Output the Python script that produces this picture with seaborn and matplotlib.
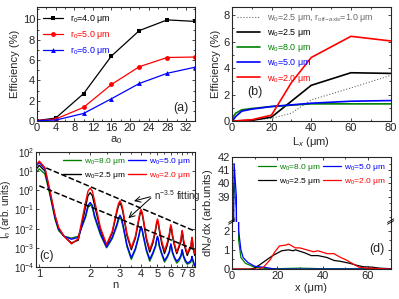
import numpy as np
import pandas as pd
import matplotlib
matplotlib.use("Agg")
import matplotlib.pyplot as plt
import seaborn as sns
from matplotlib.ticker import AutoMinorLocator, FixedLocator, NullFormatter

sns.set_style("ticks")
plt.rcParams['font.family'] = ['Liberation Sans', 'DejaVu Sans']
plt.rcParams['mathtext.fontset'] = 'custom'
plt.rcParams['mathtext.rm'] = 'Liberation Sans'
plt.rcParams['mathtext.it'] = 'Liberation Sans:italic'
plt.rcParams['xtick.direction'] = 'in'
plt.rcParams['ytick.direction'] = 'in'
plt.rcParams['axes.linewidth'] = 0.8
plt.rcParams['axes.unicode_minus'] = False

# ---- panel (a) data
a0 = [0, 4, 10, 16, 22, 28, 34]
eff_r4 = [0.05, 0.3, 2.7, 6.4, 8.9, 9.95, 9.8]
eff_r5 = [0.05, 0.2, 1.35, 3.6, 5.35, 6.25, 6.3]
eff_r6 = [0.05, 0.1, 0.75, 2.2, 3.7, 4.7, 5.3]

# ---- panel (b) data
lx_red = [0, 10, 20, 30, 40, 60, 80]
eff_w20 = [0, 0.1, 0.45, 2.9, 4.8, 6.4, 6.05]
lx_blk = [0, 10, 20, 40, 60, 80]
eff_w25 = [0, 0.05, 0.3, 2.7, 3.65, 3.6]
lx_dot = [0, 10, 20, 30, 40, 60, 80]
eff_w25_off = [0, 0.1, 0.2, 0.6, 1.6, 2.5, 3.45]
lx_fast = [0, 1, 2, 5, 10, 20, 40, 60, 80]
eff_w80 = [0, 0.4, 0.6, 0.85, 0.95, 1.1, 1.3, 1.3, 1.3]
eff_w50 = [0, 0.15, 0.35, 0.75, 0.9, 1.1, 1.35, 1.5, 1.55]

# ---- panel (c) data
n_h = [0.955, 1.0, 1.08, 1.15, 1.24, 1.3, 1.4, 1.55,
       1.7, 1.88, 1.94, 2.0, 2.06, 2.12, 2.3, 2.5,
       2.7, 2.88, 2.94, 3.0, 3.06, 3.12, 3.3, 3.5,
       3.7, 3.88, 3.94, 4.0, 4.06, 4.12, 4.3, 4.5,
       4.7, 4.88, 4.94, 5.0, 5.06, 5.12, 5.3, 5.5,
       5.7, 5.88, 5.94, 6.0, 6.06, 6.12, 6.3, 6.5,
       6.7, 6.88, 6.94, 7.0, 7.06, 7.12, 7.3, 7.5,
       7.7, 7.88, 7.94, 8.0, 8.06, 8.12, 8.3]
I_w20 = [20, 33, 15, 1.2, 0.05, 0.012, 4e-3, 1.6e-3,
         3e-3, 0.25, 0.9, 1.3, 0.9, 0.3, 0.011, 1.5e-3,
         7.2e-3, 0.1, 0.2, 0.28, 0.2, 0.1, 5.4e-3, 1e-3,
         4e-3, 0.035, 0.07, 0.1, 0.07, 0.035, 3.4e-3, 8e-4,
         2.4e-3, 0.011, 0.022, 0.032, 0.022, 0.011, 2.2e-3, 7e-4,
         1.8e-3, 5.6e-3, 0.011, 0.016, 0.011, 5.6e-3, 1.6e-3, 6e-4,
         1.3e-3, 2.8e-3, 5.6e-3, 8e-3, 5.6e-3, 2.8e-3, 1.15e-3, 5e-4,
         9e-4, 1.2e-3, 2.4e-3, 3.5e-3, 2.4e-3, 1.2e-3, 5e-4]
I_w25 = [12, 20, 10, 0.9, 0.04, 0.01, 4e-3, 1.8e-3,
         2.5e-3, 0.14, 0.52, 0.75, 0.52, 0.17, 8.7e-3, 1.3e-3,
         6e-3, 0.077, 0.15, 0.22, 0.15, 0.077, 4.3e-3, 8e-4,
         3.2e-3, 0.028, 0.056, 0.08, 0.056, 0.028, 2.6e-3, 6e-4,
         1.8e-3, 8.8e-3, 0.0175, 0.025, 0.0175, 8.8e-3, 1.6e-3, 5e-4,
         1.3e-3, 4.2e-3, 8.4e-3, 0.012, 8.4e-3, 4.2e-3, 1.3e-3, 5e-4,
         1.05e-3, 2.1e-3, 4.2e-3, 6e-3, 4.2e-3, 2.1e-3, 9e-4, 4e-4,
         7.2e-4, 1e-3, 2e-3, 2.8e-3, 2e-3, 1e-3, 4e-4]
I_w50 = [18, 28, 13, 1.0, 0.04, 0.01, 4e-3, 2.8e-3,
         3.5e-3, 0.05, 0.16, 0.23, 0.16, 0.05, 5.5e-3, 1.1e-3,
         3.5e-3, 0.0175, 0.035, 0.05, 0.035, 0.0175, 1.4e-3, 3e-4,
         9.3e-4, 4.5e-3, 9e-3, 0.013, 9e-3, 4.5e-3, 8.2e-4, 2.5e-4,
         5.7e-4, 1.4e-3, 2.8e-3, 4e-3, 2.8e-3, 1.4e-3, 5.2e-4, 2.2e-4,
         3.5e-4, 6.5e-4, 1.1e-3, 1.6e-3, 1.1e-3, 6.5e-4, 3.2e-4, 2e-4,
         2.6e-4, 4e-4, 5.6e-4, 8e-4, 5.6e-4, 4e-4, 2.3e-4, 1.6e-4,
         1.8e-4, 2.2e-4, 2.6e-4, 3.6e-4, 2.6e-4, 2.2e-4, 1.2e-4]
I_w80 = [8, 13, 7, 0.7, 0.03, 0.008, 4e-3, 3.2e-3,
         4e-3, 0.04, 0.125, 0.18, 0.125, 0.04, 4.7e-3, 1e-3,
         3e-3, 0.014, 0.028, 0.04, 0.028, 0.014, 1.15e-3, 2.5e-4,
         7.8e-4, 3.9e-3, 7.7e-3, 0.011, 7.7e-3, 3.9e-3, 6.7e-4, 2e-4,
         4.7e-4, 1.2e-3, 2.5e-3, 3.5e-3, 2.5e-3, 1.2e-3, 4.4e-4, 1.8e-4,
         3e-4, 5.6e-4, 1e-3, 1.4e-3, 1e-3, 5.6e-4, 2.8e-4, 1.6e-4,
         2.1e-4, 3.4e-4, 5e-4, 7e-4, 5e-4, 3.4e-4, 1.9e-4, 1.4e-4,
         1.55e-4, 1.8e-4, 2.2e-4, 3e-4, 2.2e-4, 1.8e-4, 1e-4]
fit_up_n = [1.1, 8.3]
fit_up_I = [14.5, 0.0075]
fit_lo_n = [1.0, 8.3]
fit_lo_I = [1.7, 0.0008]

# ---- panel (d) data
x_blue = [0, 0.5, 1, 2, 3, 4, 5, 7, 10, 15, 18, 20, 30, 40, 50, 60, 70]
dn_w50 = [0, 30, 41.5, 39, 2.0, 1.0, 0.6, 0.35, 0.15, 0.08, 0.02, 0, 0, 0, 0, 0, 0]
x_green = [0, 0.5, 1, 2, 3, 4, 6, 10, 15, 20, 30, 40, 50, 60, 70]
dn_w80 = [0, 39, 40, 38, 1.5, 0.6, 0.3, 0.1, 0.03, 0.02, 0.05, 0.02, 0.02, 0.02, 0.02]
x_black = [0, 8, 10, 12, 15, 18, 22, 25, 27, 28, 32, 35, 38, 42, 45, 48, 52, 55, 58, 62, 65, 70]
dn_w25 = [0, 0, 0.05, 0.2, 0.45, 0.7, 0.95, 1.0, 0.95, 1.0, 0.85, 0.7, 0.7, 0.6, 0.45, 0.4,
          0.3, 0.2, 0.12, 0.1, 0.05, 0.02]
x_red = [0, 12, 14, 17, 19, 21, 24, 25, 28, 30, 33, 36, 38, 42, 45, 48, 50, 53, 56, 60, 65, 70]
dn_w20 = [0, 0, 0.1, 0.5, 0.9, 1.2, 1.25, 1.3, 1.1, 1.1, 1.0, 0.9, 0.95, 0.8, 0.8, 0.6,
          0.5, 0.3, 0.1, 0.05, 0.02, 0]

W = r'w$_0$'
fig = plt.figure(figsize=(3.99, 2.99), dpi=100)
fs = 8
lfs = 6.4
sfs = 6.0


def style(ax):
    ax.tick_params(which='both', top=True, right=True, labelsize=fs, length=2.5, width=0.6, pad=1.5)
    ax.tick_params(which='minor', length=1.5)


def color_legend(leg):
    for line, text in zip(leg.get_lines(), leg.get_texts()):
        text.set_color(line.get_color())


# (a)
ax = fig.add_axes([0.093, 0.595, 0.396, 0.381])
sns.lineplot(x=a0, y=eff_r4, ax=ax, color='black', marker='s', markersize=3.5, lw=0.9,
             markeredgewidth=0, label=r'r$_0$=4.0 μm')
sns.lineplot(x=a0, y=eff_r5, ax=ax, color='red', marker='o', markersize=3.5, lw=0.9,
             markeredgewidth=0, label=r'r$_0$=5.0 μm')
sns.lineplot(x=a0, y=eff_r6, ax=ax, color='blue', marker='^', markersize=3.5, lw=0.9,
             markeredgewidth=0, label=r'r$_0$=6.0 μm')
ax.set_xlim(0, 34)
ax.set_ylim(0, 11.2)
ax.set_xticks(range(0, 33, 4))
ax.set_yticks(range(0, 11, 2))
ax.xaxis.set_minor_locator(AutoMinorLocator(2))
ax.yaxis.set_minor_locator(AutoMinorLocator(2))
ax.set_xlabel(r'a$_0$', fontsize=fs, labelpad=1)
ax.set_ylabel('Efficiency (%)', fontsize=fs, labelpad=2)
leg = ax.legend(loc='upper left', fontsize=lfs, frameon=False, handlelength=2.2,
                borderaxespad=0.3, labelspacing=0.45)
color_legend(leg)
ax.text(0.96, 0.06, '(a)', transform=ax.transAxes, ha='right', va='bottom', fontsize=9)
style(ax)

# (b)
ax = fig.add_axes([0.581, 0.595, 0.398, 0.381])
sns.lineplot(x=lx_dot, y=eff_w25_off, ax=ax, color='dimgray', lw=0.8, ls=':',
             label=W + r'=2.5 μm, r$_{\rm off\!-\!axis}$=1.0 μm')
sns.lineplot(x=lx_blk, y=eff_w25, ax=ax, color='black', lw=1.2, label=W + '=2.5 μm')
sns.lineplot(x=lx_fast, y=eff_w80, ax=ax, color='green', lw=1.2, label=W + '=8.0 μm')
sns.lineplot(x=lx_fast, y=eff_w50, ax=ax, color='blue', lw=1.2, label=W + '=5.0 μm')
sns.lineplot(x=lx_red, y=eff_w20, ax=ax, color='red', lw=1.2, label=W + '=2.0 μm')
ax.set_xlim(0, 80)
ax.set_ylim(0, 8.6)
ax.set_xticks([0, 20, 40, 60, 80])
ax.set_yticks([0, 2, 4, 6, 8])
ax.xaxis.set_minor_locator(AutoMinorLocator(2))
ax.yaxis.set_minor_locator(AutoMinorLocator(2))
ax.set_xlabel(r'L$_x$ (μm)', fontsize=fs, labelpad=1)
ax.set_ylabel('Efficiency (%)', fontsize=fs, labelpad=2)
leg = ax.legend(loc='upper left', fontsize=lfs, frameon=False, handlelength=2.6,
                borderaxespad=0.15, labelspacing=0.35)
color_legend(leg)
ax.text(0.1, 0.2, '(b)', transform=ax.transAxes, ha='left', va='bottom', fontsize=9)
style(ax)

# (c)
ax = fig.add_axes([0.090, 0.107, 0.398, 0.385])
sns.lineplot(x=n_h, y=I_w80, ax=ax, color='green', lw=1.0, sort=False, label=W + '=8.0 μm')
sns.lineplot(x=n_h, y=I_w25, ax=ax, color='black', lw=1.0, sort=False, label=W + '=2.5 μm')
sns.lineplot(x=n_h, y=I_w50, ax=ax, color='blue', lw=1.0, sort=False, label=W + '=5.0 μm')
sns.lineplot(x=n_h, y=I_w20, ax=ax, color='red', lw=1.0, sort=False, label=W + '=2.0 μm')
ax.plot(fit_up_n, fit_up_I, color='black', ls='--', lw=1.1)
ax.plot(fit_lo_n, fit_lo_I, color='black', ls='--', lw=1.1)
ax.set_xscale('log')
ax.set_yscale('log')
ax.set_xlim(0.955, 8.3)
ax.set_ylim(1e-4, 1e2)
ax.xaxis.set_major_locator(FixedLocator(range(1, 9)))
ax.set_xticklabels([str(i) for i in range(1, 9)])
ax.xaxis.set_minor_locator(FixedLocator([1.5, 2.5, 3.5, 4.5, 5.5, 6.5, 7.5]))
ax.xaxis.set_minor_formatter(NullFormatter())
ax.set_yticks([10.0 ** k for k in range(-4, 3)])
ax.set_xlabel('n', fontsize=fs, labelpad=1)
ax.set_ylabel(r'I$_n$ (arb. units)', fontsize=7.2)
leg = ax.legend(loc='upper right', ncol=2, fontsize=sfs, frameon=False, handlelength=2.2,
                borderaxespad=0.1, columnspacing=0.3, handletextpad=0.3, labelspacing=0.4)
color_legend(leg)
ax.annotate('', xy=(3.5, 0.25), xytext=(4.7, 0.5),
            arrowprops=dict(arrowstyle='->', color='black', lw=0.7))
ax.annotate('', xy=(3.27, 0.028), xytext=(4.7, 0.5),
            arrowprops=dict(arrowstyle='->', color='black', lw=0.7))
ax.text(4.75, 0.5, r'n$^{-3.5}$ fitting', fontsize=7, ha='left', va='center')
ax.text(0.02, 0.04, '(c)', transform=ax.transAxes, ha='left', va='bottom', fontsize=9)
style(ax)
ax.tick_params(axis='y', labelsize=7, pad=1)
ax.yaxis.set_label_coords(-0.145, 0.5)

# (d) broken axis
ax_lo = fig.add_axes([0.581, 0.100, 0.398, 0.158])
ax_hi = fig.add_axes([0.581, 0.258, 0.398, 0.217], sharex=ax_lo)
for a in (ax_lo, ax_hi):
    sns.lineplot(x=x_green, y=dn_w80, ax=a, color='green', lw=0.9, label=W + '=8.0 μm')
    sns.lineplot(x=x_black, y=dn_w25, ax=a, color='black', lw=0.9, label=W + '=2.5 μm')
    sns.lineplot(x=x_blue, y=dn_w50, ax=a, color='blue', lw=0.9, label=W + '=5.0 μm')
    sns.lineplot(x=x_red, y=dn_w20, ax=a, color='red', lw=0.9, label=W + '=2.0 μm')
    style(a)
ax_lo.legend().remove()
ax_lo.set_xlim(0, 70)
ax_lo.set_ylim(0, 2.45)
ax_hi.set_ylim(37.1, 42)
ax_lo.set_xticks([0, 20, 40, 60])
ax_lo.xaxis.set_minor_locator(AutoMinorLocator(2))
ax_lo.set_yticks([0, 1, 2])
ax_lo.yaxis.set_minor_locator(AutoMinorLocator(2))
ax_hi.set_yticks([39, 40, 41, 42])
ax_hi.yaxis.set_minor_locator(AutoMinorLocator(2))
ax_hi.spines['bottom'].set_visible(False)
ax_lo.spines['top'].set_visible(False)
ax_hi.tick_params(which='both', bottom=False, labelbottom=False)
ax_lo.tick_params(which='both', top=False)
ax_lo.set_xlabel('x (μm)', fontsize=fs, labelpad=1)
ax_lo.set_ylabel('')
ax_hi.set_ylabel('')
fig.text(0.522, 0.287, r'dN$_e$/dx (arb.units)', rotation=90, ha='center', va='center', fontsize=fs)
leg = ax_hi.legend(loc='upper right', ncol=2, fontsize=sfs, frameon=False, handlelength=2.2,
                   borderaxespad=0.2, columnspacing=0.3, handletextpad=0.3, labelspacing=0.4)
color_legend(leg)
ax_lo.text(0.96, 0.3, '(d)', transform=ax_lo.transAxes, ha='right', va='bottom', fontsize=9)
# break marks
kw = dict(transform=fig.transFigure, color='black', lw=0.6, clip_on=False)
for xb in (0.581, 0.979):
    fig.add_artist(plt.Line2D([xb - 0.008, xb + 0.008], [0.250, 0.262], **kw))
    fig.add_artist(plt.Line2D([xb - 0.008, xb + 0.008], [0.256, 0.268], **kw))

fig.savefig('out.png', dpi=100)
